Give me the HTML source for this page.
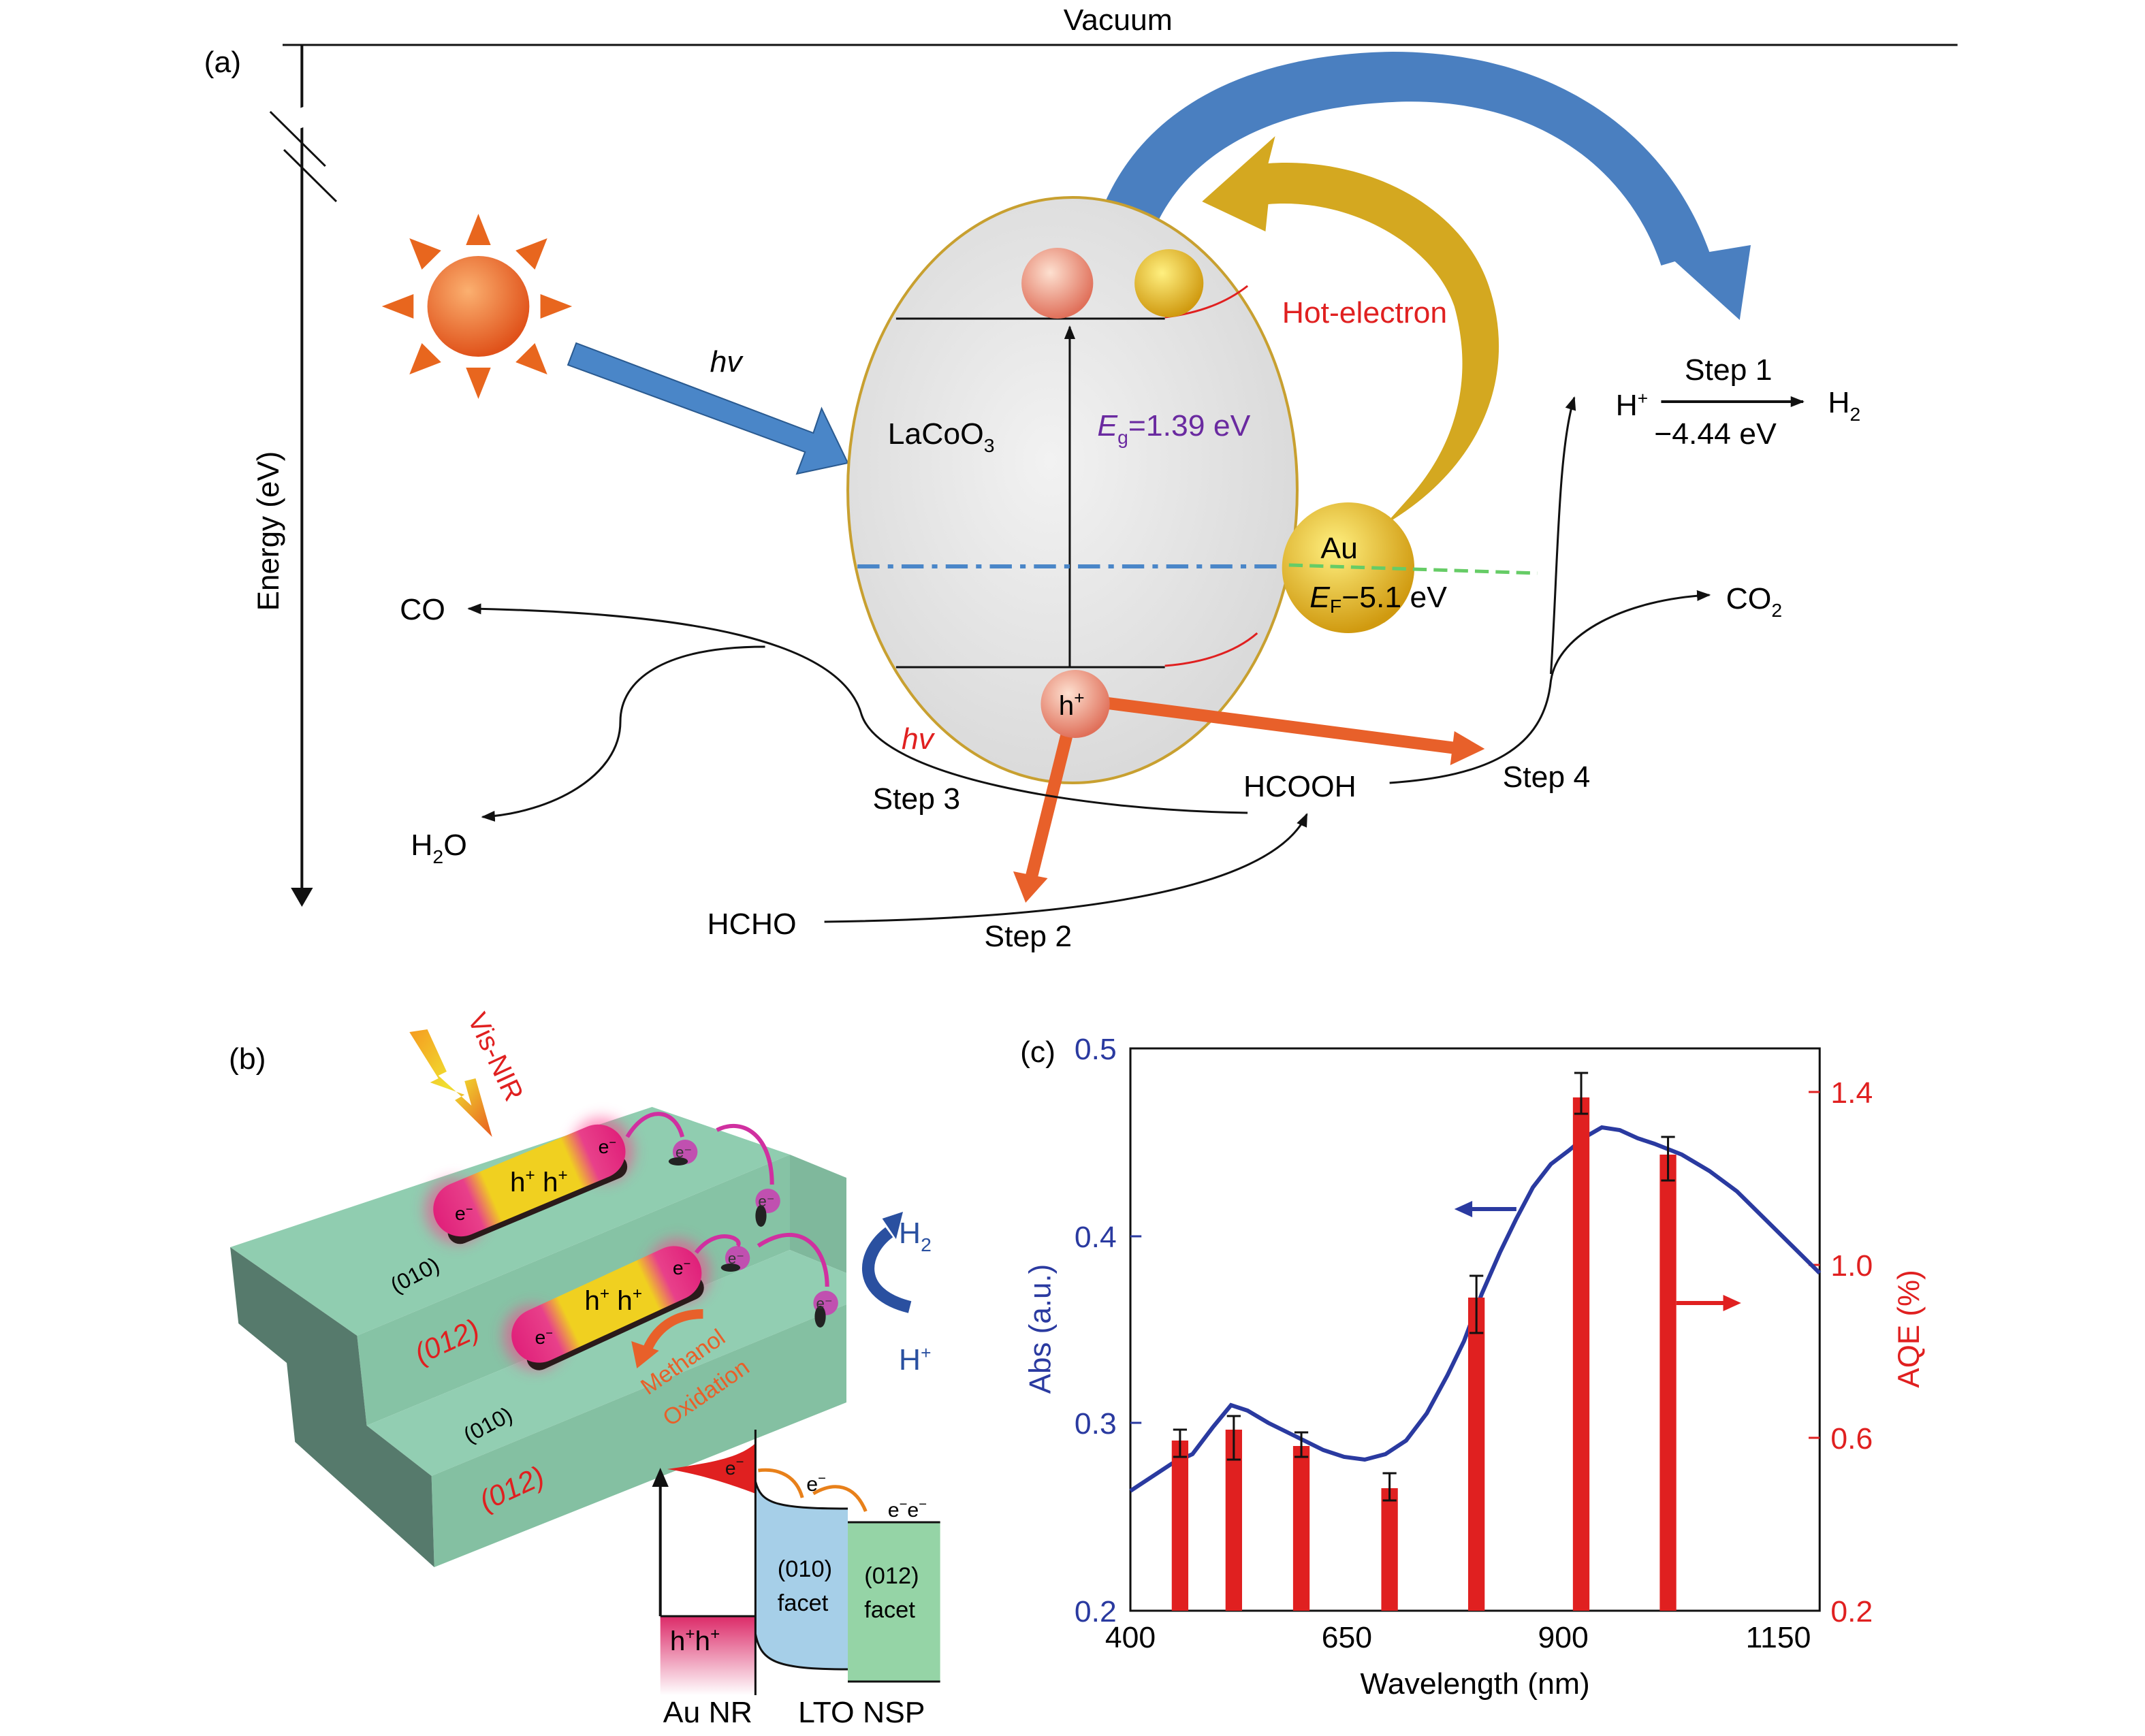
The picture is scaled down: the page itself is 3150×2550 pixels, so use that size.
<!DOCTYPE html>
<html><head><meta charset="utf-8"><style>
html,body{margin:0;padding:0;background:#fff}
svg{display:block}
text{font-family:"Liberation Sans",sans-serif}
</style></head><body>
<svg width="3150" height="2550" viewBox="0 0 1556 1275" preserveAspectRatio="none" xmlns="http://www.w3.org/2000/svg">
<defs>
<marker id="ar" markerWidth="10" markerHeight="8" refX="9" refY="4" orient="auto" markerUnits="userSpaceOnUse"><path d="M0,0 L10,4 L0,8 z" fill="#111"/></marker>
<radialGradient id="sun" cx="40%" cy="35%" r="65%"><stop offset="0" stop-color="#fbb070"/><stop offset="1" stop-color="#e0521a"/></radialGradient>
<radialGradient id="pink" cx="40%" cy="35%" r="65%"><stop offset="0" stop-color="#fde0d0"/><stop offset="1" stop-color="#e0705a"/></radialGradient>
<radialGradient id="gold" cx="40%" cy="35%" r="65%"><stop offset="0" stop-color="#fff080"/><stop offset="1" stop-color="#d09a10"/></radialGradient>
<radialGradient id="ell" cx="45%" cy="45%" r="60%"><stop offset="0" stop-color="#f2f2f2"/><stop offset="1" stop-color="#d8d8d8"/></radialGradient>
<linearGradient id="rod" x1="0" y1="0" x2="1" y2="0"><stop offset="0" stop-color="#e0207a"/><stop offset="0.2" stop-color="#e8408a"/><stop offset="0.3" stop-color="#f0d020"/><stop offset="0.72" stop-color="#f0d020"/><stop offset="0.82" stop-color="#e8408a"/><stop offset="1" stop-color="#e0207a"/></linearGradient>
<linearGradient id="hh" x1="0" y1="0" x2="0" y2="1"><stop offset="0" stop-color="#dc2a68"/><stop offset="1" stop-color="#fff"/></linearGradient>
<linearGradient id="bolt" x1="0" y1="0" x2="1" y2="1"><stop offset="0" stop-color="#f59a20"/><stop offset="0.5" stop-color="#f0e030"/><stop offset="1" stop-color="#e85a20"/></linearGradient>
<filter id="glow" x="-30%" y="-60%" width="160%" height="220%"><feGaussianBlur stdDeviation="5"/></filter>
</defs>

<!-- (a) -->
<text x="148" y="53" font-size="22">(a)</text>
<text x="811" y="22" font-size="22" text-anchor="middle">Vacuum</text>
<line x1="205" y1="33" x2="1420" y2="33" stroke="#111" stroke-width="1.5"/>
<line x1="219" y1="33" x2="219" y2="652" stroke="#111" stroke-width="2"/>
<path d="M211,652 L227,652 L219,666 z" fill="#111"/>
<line x1="196" y1="95" x2="236" y2="80" stroke="#fff" stroke-width="14"/>
<line x1="196" y1="82" x2="236" y2="122" stroke="#111" stroke-width="1.5"/>
<line x1="206" y1="110" x2="244" y2="148" stroke="#111" stroke-width="1.5"/>
<text transform="translate(202,390) rotate(-90)" font-size="22" text-anchor="middle">Energy (eV)</text>

<g fill="#e8661e">
<polygon points="347,157 338,180 356,180"/><polygon points="347,293 338,270 356,270"/>
<polygon points="277,225 300,216 300,234"/><polygon points="415,225 392,216 392,234"/>
<polygon points="297,175 306,198 320,184"/><polygon points="397,175 374,184 388,198"/>
<polygon points="297,275 320,266 306,252"/><polygon points="397,275 388,252 374,266"/>
</g>
<circle cx="347" cy="225" r="37" fill="url(#sun)"/>
<polygon points="418,252 590,318 596,300 615,340 578,348 584,332 412,268" fill="#4a86c8" stroke="#2a5a90"/>
<text x="515" y="273" font-size="22" font-style="italic">hv</text>

<path d="M788,200 C800,100 880,40 1010,38 C1130,38 1210,100 1240,185 L1270,180 L1262,235 L1215,192 L1205,195 C1180,120 1110,70 1010,75 C900,80 840,130 828,200 z" fill="#4a7fc0"/>
<ellipse cx="778" cy="360" rx="163" ry="215" fill="url(#ell)" stroke="#c8a030" stroke-width="2"/>
<path d="M1005,385 C1080,340 1100,270 1080,210 C1060,150 990,115 920,120 L925,100 L872,148 L918,170 L920,150 C980,145 1040,180 1055,225 C1070,280 1055,330 1020,368 z" fill="#d4a820"/>
<line x1="650" y1="234" x2="845" y2="234" stroke="#111" stroke-width="1.5"/>
<line x1="650" y1="490" x2="845" y2="490" stroke="#111" stroke-width="1.5"/>
<path d="M845,233 C870,230 890,222 905,210" fill="none" stroke="#e02020" stroke-width="1.5"/>
<path d="M845,489 C870,487 895,480 912,465" fill="none" stroke="#e02020" stroke-width="1.5"/>
<line x1="776" y1="490" x2="776" y2="240" stroke="#111" stroke-width="1.5" marker-end="url(#ar)"/>
<circle cx="767" cy="208" r="26" fill="url(#pink)"/>
<circle cx="848" cy="208" r="25" fill="url(#gold)"/>
<line x1="622" y1="416" x2="935" y2="416" stroke="#4a86c8" stroke-width="3" stroke-dasharray="16,6,4,6"/>
<circle cx="978" cy="417" r="48" fill="url(#gold)"/>
<line x1="935" y1="415" x2="1115" y2="421" stroke="#6c6" stroke-width="2.5" stroke-dasharray="10,5"/>
<text x="958" y="410" font-size="22">Au</text>
<text x="950" y="446" font-size="22"><tspan font-style="italic">E</tspan><tspan font-size="14" dy="4">F</tspan><tspan dy="-4">−5.1 eV</tspan></text>
<text x="644" y="326" font-size="22">LaCoO<tspan font-size="14" dy="6">3</tspan></text>
<text x="796" y="320" font-size="22" fill="#6a2aa0"><tspan font-style="italic">E</tspan><tspan font-size="14" dy="6">g</tspan><tspan dy="-6">=1.39 eV</tspan></text>
<text x="930" y="237" font-size="22" fill="#e02020">Hot-electron</text>
<line x1="800" y1="516" x2="1060" y2="550" stroke="#e8602a" stroke-width="9"/>
<polygon points="1077,550 1055,537 1052,562" fill="#e8602a"/>
<line x1="775" y1="535" x2="748" y2="645" stroke="#e8602a" stroke-width="9"/>
<polygon points="744,663 735,640 760,645" fill="#e8602a"/>
<circle cx="780" cy="517" r="25" fill="url(#pink)"/>
<text x="768" y="525" font-size="20">h<tspan font-size="13" dy="-8">+</tspan></text>

<text x="1222" y="279" font-size="22">Step 1</text>
<text x="1172" y="305" font-size="22">H<tspan font-size="13" dy="-8">+</tspan></text>
<line x1="1205" y1="295" x2="1308" y2="295" stroke="#111" stroke-width="2" marker-end="url(#ar)"/>
<text x="1326" y="303" font-size="22">H<tspan font-size="14" dy="6">2</tspan></text>
<text x="1200" y="326" font-size="22">−4.44 eV</text>
<path d="M1125,495 C1130,420 1130,330 1142,292" fill="none" stroke="#111" stroke-width="1.5" marker-end="url(#ar)"/>
<path d="M1008,575 C1080,570 1120,550 1125,500 C1130,465 1180,440 1240,437" fill="none" stroke="#111" stroke-width="1.5" marker-end="url(#ar)"/>
<text x="1252" y="447" font-size="22">CO<tspan font-size="14" dy="6">2</tspan></text>
<text x="1090" y="578" font-size="22">Step 4</text>
<text x="902" y="585" font-size="22">HCOOH</text>
<text x="290" y="455" font-size="22">CO</text>
<path d="M905,597 C780,595 640,570 625,525 C610,470 500,450 340,447" fill="none" stroke="#111" stroke-width="1.5" marker-end="url(#ar)"/>
<path d="M555,475 C480,475 450,500 450,530 C450,570 400,597 350,600" fill="none" stroke="#111" stroke-width="1.5" marker-end="url(#ar)"/>
<text x="298" y="628" font-size="22">H<tspan font-size="14" dy="6">2</tspan><tspan dy="-6">O</tspan></text>
<text x="654" y="550" font-size="22" font-style="italic" fill="#e02020">hv</text>
<text x="633" y="594" font-size="22">Step 3</text>
<text x="513" y="686" font-size="22">HCHO</text>
<path d="M598,677 C750,675 920,660 948,598" fill="none" stroke="#111" stroke-width="1.5" marker-end="url(#ar)"/>
<text x="714" y="695" font-size="22">Step 2</text>

<!-- (b) -->
<text x="166" y="785" font-size="22">(b)</text>
<polygon points="167,916 473,813 573,848 259,981" fill="#90cdb0"/>
<polygon points="259,981 573,848 573,918 266,1047" fill="#86c3a5"/>
<polygon points="573,848 614,865 614,935 573,918" fill="#7fb89c"/>
<polygon points="266,1047 573,918 614,935 614,958 313,1084" fill="#92ceb2"/>
<polygon points="313,1084 614,958 614,1030 315,1151" fill="#84c0a2"/>
<polygon points="167,916 259,981 266,1047 313,1084 315,1151 214,1059 208,1001 173,972" fill="#567a6c"/>
<text transform="translate(287,950) rotate(-28)" font-size="16">(010)</text>
<text transform="translate(305,1002) rotate(-25)" font-size="21" font-style="italic" fill="#e02020">(012)</text>
<text transform="translate(340,1060) rotate(-28)" font-size="16">(010)</text>
<text transform="translate(352,1110) rotate(-25)" font-size="21" font-style="italic" fill="#e02020">(012)</text>
<g transform="translate(384,867) rotate(-23)">
<ellipse cx="-58" cy="0" rx="22" ry="24" fill="#ff3a8a" opacity="0.55" filter="url(#glow)"/>
<ellipse cx="58" cy="0" rx="22" ry="24" fill="#ff3a8a" opacity="0.55" filter="url(#glow)"/>
<rect x="-70" y="6" width="140" height="18" rx="9" fill="#2a1a1a"/>
<rect x="-74" y="-20" width="148" height="40" rx="20" fill="url(#rod)"/>
</g>
<text x="370" y="875" font-size="20">h<tspan font-size="12" dy="-8">+</tspan><tspan dy="8"> h</tspan><tspan font-size="12" dy="-8">+</tspan></text>
<text x="330" y="896" font-size="14">e<tspan font-size="9" dy="-5">−</tspan></text>
<text x="434" y="847" font-size="14">e<tspan font-size="9" dy="-5">−</tspan></text>
<g transform="translate(440,958) rotate(-25)">
<ellipse cx="-58" cy="0" rx="22" ry="24" fill="#ff3a8a" opacity="0.55" filter="url(#glow)"/>
<ellipse cx="58" cy="0" rx="22" ry="24" fill="#ff3a8a" opacity="0.55" filter="url(#glow)"/>
<rect x="-70" y="6" width="140" height="18" rx="9" fill="#2a1a1a"/>
<rect x="-74" y="-20" width="148" height="40" rx="20" fill="url(#rod)"/>
</g>
<text x="424" y="962" font-size="20">h<tspan font-size="12" dy="-8">+</tspan><tspan dy="8"> h</tspan><tspan font-size="12" dy="-8">+</tspan></text>
<text x="388" y="987" font-size="14">e<tspan font-size="9" dy="-5">−</tspan></text>
<text x="488" y="936" font-size="14">e<tspan font-size="9" dy="-5">−</tspan></text>
<polygon points="297,758 310,756 324,787 318,790 342,812 337,794 345,792 357,835 330,808 337,804 312,795 318,792" fill="url(#bolt)"/>
<text transform="translate(339,748) rotate(65)" font-size="20" fill="#e02020">Vis-NIR</text>
<g fill="#c050b0"><circle cx="497" cy="846" r="9"/><circle cx="557" cy="882" r="9"/><circle cx="535" cy="924" r="9"/><circle cx="599" cy="957" r="9"/></g>
<g fill="#222"><ellipse cx="492" cy="853" rx="7" ry="3"/><ellipse cx="552" cy="893" rx="4" ry="8"/><ellipse cx="530" cy="931" rx="7" ry="3"/><ellipse cx="595" cy="967" rx="4" ry="8"/></g>
<g font-size="11" fill="#333"><text x="490" y="850">e⁻</text><text x="550" y="886">e⁻</text><text x="528" y="928">e⁻</text><text x="592" y="961">e⁻</text></g>
<path d="M455,835 C470,810 490,815 495,835 M520,830 C540,820 560,835 560,870 M505,920 C520,900 540,910 535,915 M550,915 C580,895 600,915 600,945" fill="none" stroke="#d030a0" stroke-width="3"/>
<path d="M660,960 C620,950 625,920 645,905" fill="none" stroke="#2a50a0" stroke-width="9"/>
<polygon points="640,895 655,890 650,910" fill="#2a50a0"/>
<text x="652" y="913" font-size="22" fill="#2a50a0">H<tspan font-size="14" dy="6">2</tspan></text>
<text x="652" y="1006" font-size="22" fill="#2a50a0">H<tspan font-size="13" dy="-8">+</tspan></text>
<path d="M510,965 C490,965 475,975 468,995" fill="none" stroke="#e8602a" stroke-width="7"/>
<polygon points="462,1005 458,985 478,992" fill="#e8602a"/>
<text transform="translate(470,1025) rotate(-35)" font-size="17" fill="#e8602a">Methanol</text>
<text transform="translate(486,1048) rotate(-35)" font-size="17" fill="#e8602a">Oxidation</text>
<rect x="479" y="1187" width="69" height="58" fill="url(#hh)"/>
<line x1="479" y1="1187" x2="548" y2="1187" stroke="#111" stroke-width="1.5"/>
<line x1="479" y1="1187" x2="479" y2="1090" stroke="#111" stroke-width="2"/>
<path d="M473,1092 L479,1078 L485,1092z" fill="#111"/>
<text x="486" y="1212" font-size="20">h<tspan font-size="12" dy="-8">+</tspan><tspan dy="8">h</tspan><tspan font-size="12" dy="-8">+</tspan></text>
<path d="M484,1079 C510,1075 535,1072 548,1060 L548,1097 C530,1090 505,1082 484,1079z" fill="#e02020"/>
<text x="526" y="1083" font-size="14" fill="#111">e<tspan font-size="10" dy="-6">−</tspan></text>
<path d="M548,1088 C552,1104 562,1108 615,1108 L615,1226 C562,1226 552,1222 548,1200z" fill="#a6cfe8"/>
<path d="M548,1088 C552,1104 562,1108 615,1108" fill="none" stroke="#111" stroke-width="1.5"/>
<path d="M548,1200 C552,1220 562,1226 615,1226" fill="none" stroke="#111" stroke-width="1.5"/>
<line x1="548" y1="1050" x2="548" y2="1245" stroke="#111" stroke-width="1.5"/>
<rect x="615" y="1118" width="67" height="117" fill="#95d4a6"/>
<line x1="615" y1="1118" x2="682" y2="1118" stroke="#111" stroke-width="1.5"/>
<line x1="615" y1="1235" x2="682" y2="1235" stroke="#111" stroke-width="1.5"/>
<text x="564" y="1158" font-size="17">(010)</text><text x="564" y="1183" font-size="17">facet</text>
<text x="627" y="1163" font-size="17">(012)</text><text x="627" y="1188" font-size="17">facet</text>
<path d="M550,1080 C566,1078 578,1085 582,1100 M590,1097 C605,1088 620,1090 628,1110" fill="none" stroke="#e8801a" stroke-width="2.5"/>
<text x="585" y="1095" font-size="15">e<tspan font-size="10" dy="-6">−</tspan></text>
<text x="644" y="1114" font-size="15">e<tspan font-size="10" dy="-6">−</tspan><tspan dy="6">e</tspan><tspan font-size="10" dy="-6">−</tspan></text>
<text x="481" y="1265" font-size="22">Au NR</text>
<text x="579" y="1265" font-size="22">LTO NSP</text>

<!-- (c) -->
<text x="740" y="780" font-size="22">(c)</text>
<rect x="820" y="770" width="500" height="413" fill="none" stroke="#111" stroke-width="1.5"/>
<g stroke="#2a3aa0" stroke-width="1.5"><line x1="820" y1="908" x2="828" y2="908"/><line x1="820" y1="1045" x2="828" y2="1045"/></g>
<g font-size="22" fill="#2a3aa0" text-anchor="end"><text x="810" y="778">0.5</text><text x="810" y="916">0.4</text><text x="810" y="1053">0.3</text><text x="810" y="1191">0.2</text></g>
<text transform="translate(762,976) rotate(-90)" font-size="22" fill="#2a3aa0" text-anchor="middle">Abs (a.u.)</text>
<g stroke="#e02020" stroke-width="1.5"><line x1="1312" y1="802" x2="1320" y2="802"/><line x1="1312" y1="929" x2="1320" y2="929"/><line x1="1312" y1="1056" x2="1320" y2="1056"/></g>
<g font-size="22" fill="#e02020"><text x="1328" y="810">1.4</text><text x="1328" y="937">1.0</text><text x="1328" y="1064">0.6</text><text x="1328" y="1191">0.2</text></g>
<text transform="translate(1392,976) rotate(-90)" font-size="22" fill="#e02020" text-anchor="middle">AQE (%)</text>
<g font-size="22" text-anchor="middle"><text x="820" y="1210">400</text><text x="977" y="1210">650</text><text x="1134" y="1210">900</text><text x="1290" y="1210">1150</text></g>
<text x="1070" y="1244" font-size="22" text-anchor="middle">Wavelength (nm)</text>
<polyline fill="none" stroke="#2a3aa0" stroke-width="3" points="820,1095 835,1085 850,1075 865,1068 880,1048 893,1032 905,1036 920,1045 940,1055 960,1065 975,1070 990,1072 1005,1068 1020,1058 1035,1038 1050,1010 1062,985 1075,950 1088,920 1100,895 1112,872 1125,855 1138,845 1150,835 1162,828 1175,830 1188,836 1200,840 1220,848 1240,860 1260,875 1280,895 1300,915 1320,935"/>
<g fill="#e02020">
<rect x="850" y="1058" width="12" height="125"/><rect x="889" y="1050" width="12" height="133"/><rect x="938" y="1062" width="12" height="121"/><rect x="1002" y="1093" width="12" height="90"/><rect x="1065" y="953" width="12" height="230"/><rect x="1141" y="806" width="12" height="377"/><rect x="1204" y="848" width="12" height="335"/>
</g>
<g stroke="#111" stroke-width="1.5">
<path d="M856,1050v20M851,1050h10M851,1070h10"/><path d="M895,1040v32M890,1040h10M890,1072h10"/><path d="M944,1052v18M939,1052h10M939,1070h10"/><path d="M1008,1082v20M1003,1082h10M1003,1102h10"/><path d="M1071,937v42M1066,937h10M1066,979h10"/><path d="M1147,788v30M1142,788h10M1142,818h10"/><path d="M1210,835v32M1205,835h10M1205,867h10"/>
</g>
<line x1="1100" y1="888" x2="1062" y2="888" stroke="#2a3aa0" stroke-width="3"/><polygon points="1055,888 1068,882 1068,894" fill="#2a3aa0"/>
<line x1="1216" y1="957" x2="1255" y2="957" stroke="#e02020" stroke-width="3"/><polygon points="1263,957 1250,951 1250,963" fill="#e02020"/>
</svg>
</body></html>
